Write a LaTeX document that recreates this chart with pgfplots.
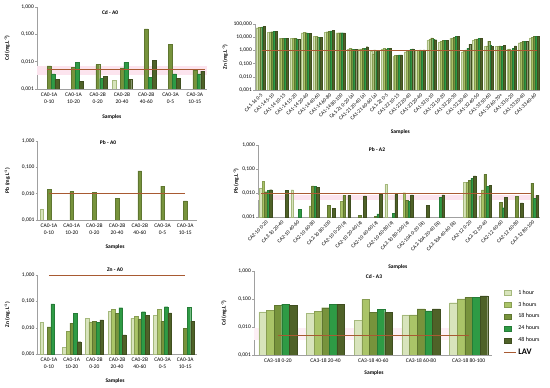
\documentclass[border=0pt]{standalone}
\usepackage{pgfplots}
\pgfplotsset{compat=1.18}
\usepackage{fontspec}
\setmainfont{Carlito}
\definecolor{c1}{RGB}{216,228,188}
\definecolor{c1d}{RGB}{165,185,125}
\definecolor{c2}{RGB}{170,196,104}
\definecolor{c3}{RGB}{119,147,60}
\definecolor{c4}{RGB}{46,155,69}
\definecolor{c5}{RGB}{79,98,40}
\definecolor{lavc}{RGB}{168,90,50}
\definecolor{axc}{RGB}{160,160,160}
\definecolor{pinkb}{RGB}{252,228,238}
\pgfplotsset{
  mypanel/.style={
    scale only axis,
    axis x line*=bottom, axis y line*=left,
    axis line style={draw=axc, line width=0.5pt},
    ymin=0.001, ymax=1,
    ytick={0.001,0.01,0.1,1},
    yticklabels={{0,001},{0,010},{0,100},{1,000}},
    yminorticks=false,
    ytick style={draw=axc, line width=0.5pt},
    xtick style={draw=none},
    tick align=outside, major tick length=2pt,
    ticklabel style={font=\fontsize{5.5}{6.5}\selectfont},
    yticklabel style={inner sep=1pt},
    xticklabel style={inner sep=1.5pt},
    xlabel style={font=\bfseries\fontsize{5.5}{6.5}\selectfont},
    ylabel style={font=\bfseries\fontsize{5.5}{6.5}\selectfont},
  },
  mytwo/.style={xticklabel style={align=center, font=\fontsize{5.5}{7}\selectfont}},
  myrot/.style={xticklabel style={rotate=45, anchor=north east, inner sep=0.6pt, font=\fontsize{5.2}{5.4}\selectfont}},
  sqleg/.style={legend image code/.code={\draw[##1] (0pt,-2.5pt) rectangle (7pt,2.5pt);}},
  lnleg/.style={legend image code/.code={\draw[##1] (0pt,0pt) -- (12pt,0pt);}},
  hA/.style={ybar, bar width=0.16, bar shift=-0.32, fill=c1, draw=c1d, line width=0.3pt, sqleg},
  hB/.style={ybar, bar width=0.16, bar shift=-0.16, fill=c2, draw=c2!80!black, line width=0.3pt, sqleg},
  hC/.style={ybar, bar width=0.16, bar shift=0, fill=c3, draw=c3!80!black, line width=0.3pt, sqleg},
  hD/.style={ybar, bar width=0.16, bar shift=0.16, fill=c4, draw=c4!80!black, line width=0.3pt, sqleg},
  hE/.style={ybar, bar width=0.16, bar shift=0.32, fill=c5, draw=c5!80!black, line width=0.3pt, sqleg},
  mylav/.style={sharp plot, draw=lavc, line width=0.9pt, mark=none, lnleg},
}
\newcommand{\ttl}{\bfseries\fontsize{5.5}{6.5}\selectfont}
\begin{document}
\begin{tikzpicture}
\useasboundingbox (0,0) rectangle (550pt,388pt);
% ---------------- Cd - A0
\begin{axis}[ymode=log, log origin=infty, mypanel, mytwo, at={(37pt,299pt)}, anchor=south west, width=170pt, height=82pt,
  xmin=-0.5, xmax=6.5, xtick={0,...,6},
  xticklabels={{CA0-1A\\0-10},{CA0-1A\\10-20},{CA0-2B\\0-20},{CA0-2B\\20-40},{CA0-2B\\40-60},{CA0-3A\\0-5},{CA0-3A\\10-15}},
  ylabel={Cd (mg.L\textsuperscript{-1})}, ylabel style={at={(axis description cs:-0.176,0.5)}, anchor=center},
  xlabel={Samples}, xlabel style={at={(axis description cs:0.44,-0.34)}, anchor=center}]
\fill[pinkb] (axis cs:-0.5,0.0032) rectangle (axis cs:6.5,0.0069);
\addplot[hA] coordinates {(3,0.0021)};
\addplot[hC] coordinates {(0,0.007) (1,0.0063) (2,0.0078) (3,0.0059) (4,0.16) (5,0.044) (6,0.005)};
\addplot[hD] coordinates {(0,0.0036) (1,0.0095) (2,0.0024) (3,0.0095) (4,0.0027) (5,0.0036) (6,0.0036)};
\addplot[hE] coordinates {(0,0.0022) (1,0.0019) (2,0.0029) (3,0.0023) (4,0.011) (5,0.0025) (6,0.0045)};
\addplot[mylav] coordinates {(-0.1,0.005) (6.4,0.005)};
\node[font=\ttl] at (axis description cs:0.43,0.927) {Cd - A0};
\end{axis}
% ---------------- Zn - A1
\begin{axis}[ymode=log, log origin=infty, mypanel, myrot, at={(255pt,298pt)}, anchor=south west, width=285pt, height=66pt,
  ymax=100, ytick={0.001,0.01,0.1,1,10,100},
  yticklabels={{0,001},{0,010},{0,100},{1,000},{10,000},{100,000}},
  xmin=-0.5, xmax=24.5, xtick={0,...,24},
  xticklabels={{CA1-14 0-5},{CA1-14 5-10},{CA1-14 10-15},{CA1-14 15-20},{CA1-14 20-40},{CA1-14 40-60},{CA1-14 60-80},{CA1-14 80-100},{CA1-21 0-20 (a)},{CA1-21 20-40 (a)},{CA1-21 40-60 (a)},{CA1-22 0-5},{CA1-22 10-15},{CA1-22 20-40},{CA1-23 20-40},{CA1-32 0-10},{CA1-32 10-20},{CA1-32 20-30},{CA1-32 30-40},{CA1-32 40-50},{CA1-32 50-60},{CA1-32 60-70+},{CA1-33 0-20},{CA1-33 20-40},{CA1-33 40-60}},
  ylabel={Zn (mg.L\textsuperscript{-1})}, ylabel style={at={(axis description cs:-0.105,0.5)}, anchor=center},
  xlabel={Samples}, xlabel style={at={(axis description cs:0.51,-0.64)}, anchor=center}]
\addplot[hA, bar width=0.17, bar shift=-0.34] coordinates {(0,52)(1,24)(2,7.8)(3,8)(4,22)(5,11)(6,24)(7,22)(8,1.2)(9,1.3)(10,0.9)(11,1.3)(12,0.35)(13,0.8)(14,1.0)(15,6)(16,4.5)(17,8)(18,0.8)(19,6)(20,2)(21,2)(22,1.3)(23,3.8)(24,9)};
\addplot[hB, bar width=0.17, bar shift=-0.17] coordinates {(0,55)(1,25)(2,8)(3,7.8)(4,24)(5,11)(6,26)(7,22)(8,1.4)(9,1.3)(10,0.55)(11,1.4)(12,0.4)(13,0.9)(14,1.0)(15,7)(16,5)(17,9)(18,0.9)(19,7)(20,2.2)(21,2.1)(22,1.3)(23,4.2)(24,10)};
\addplot[hC, bar width=0.17, bar shift=0] coordinates {(0,58)(1,26)(2,8)(3,8)(4,22)(5,10.5)(6,28)(7,22)(8,1.3)(9,1.4)(10,1.1)(11,1.3)(12,0.42)(13,1.0)(14,1.1)(15,9)(16,5.5)(17,10)(18,1.1)(19,7.5)(20,5)(21,2.2)(22,1.1)(23,4.6)(24,11)};
\addplot[hD, bar width=0.17, bar shift=0.17] coordinates {(0,60)(1,27)(2,8.2)(3,7.6)(4,20)(5,10)(6,30)(7,22)(8,1.25)(9,1.5)(10,0.8)(11,1.4)(12,0.45)(13,1.2)(14,1.0)(15,7)(16,6)(17,11)(18,1.5)(19,8)(20,2.5)(21,2)(22,1.5)(23,4.8)(24,12)};
\addplot[hE, bar width=0.17, bar shift=0.34] coordinates {(0,63)(1,28)(2,8)(3,7.3)(4,19)(5,9.5)(6,33)(7,21)(8,1.2)(9,1.9)(10,1.0)(11,1.4)(12,0.45)(13,1.3)(14,1.1)(15,6.5)(16,6)(17,11)(18,3)(19,8)(20,2)(21,2.5)(22,2.2)(23,5)(24,12)};
\addplot[mylav] coordinates {(0.1,1) (24.2,1)};
\node[font=\ttl] at (axis description cs:0.44,1.167) {Zn - A1};
\end{axis}
% ---------------- Pb - A0
\begin{axis}[ymode=log, log origin=infty, mypanel, mytwo, at={(37.6pt,168pt)}, anchor=south west, width=159pt, height=79pt,
  xmin=-0.5, xmax=6.5, xtick={0,...,6},
  xticklabels={{CA0-1A\\0-10},{CA0-1A\\10-20},{CA0-2B\\0-20},{CA0-2B\\20-40},{CA0-2B\\40-60},{CA0-3A\\0-5},{CA0-3A\\10-15}},
  ylabel={Pb (mg.L\textsuperscript{-1})}, ylabel style={at={(axis description cs:-0.19,0.5)}, anchor=center},
  xlabel={Samples}, xlabel style={at={(axis description cs:0.487,-0.34)}, anchor=center}]
\addplot[hA] coordinates {(0,0.0026)};
\addplot[hC] coordinates {(0,0.0146) (1,0.012) (2,0.011) (3,0.0066) (4,0.073) (5,0.0195) (6,0.0053)};
\addplot[mylav] coordinates {(0,0.01) (6,0.01)};
\node[font=\ttl] at (axis description cs:0.443,0.975) {Pb - A0};
\end{axis}
% ---------------- Pb - A2
\begin{axis}[ymode=log, log origin=infty, mypanel, myrot, at={(258pt,170.7pt)}, anchor=south west, width=282pt, height=72.3pt,
  xmin=-0.5, xmax=17.5, xtick={0,...,17},
  xticklabels={{CA2-10 0-20},{CA2-10 20-40},{CA2-10 40-60},{CA2-10 60-80},{CA2-10 80-100},{CA2-10 0-20 (a)},{CA2-10 20-40 (a)},{CA2-10 40-60 (a)},{CA2-10 60-80 (a)},{CA2-10 80-100 (a)},{CA2-10A 0-20 (iii)},{CA2-10A 20-40 (iii)},{CA2-10A 40-60 (iii)},{CA2-12 0-20},{CA2-12 20-40},{CA2-12 40-60},{CA2-12 60-80},{CA2-12 80-100}},
  ylabel={Pb (mg.L\textsuperscript{-1})}, ylabel style={at={(axis description cs:-0.078,0.5)}, anchor=center},
  xlabel={Samples}, xlabel style={at={(axis description cs:0.496,-0.687)}, anchor=center}]
\fill[pinkb] (axis cs:-0.5,0.0052) rectangle (axis cs:17.5,0.0085);
\addplot[hA] coordinates {(0,0.016) (2,0.014) (8,0.023) (13,0.028) (14,0.0078)};
\addplot[hB] coordinates {(0,0.032) (3,0.003) (5,0.0045) (9,0.0105) (13,0.028) (14,0.0138)};
\addplot[hC] coordinates {(0,0.0115) (3,0.02) (4,0.0032) (5,0.008) (6,0.0012) (7,0.0011) (9,0.0052) (13,0.035) (14,0.06) (15,0.0042) (16,0.0076) (17,0.026)};
\addplot[hD] coordinates {(0,0.0135) (2,0.0022) (3,0.019) (7,0.0014) (8,0.0015) (9,0.0045) (11,0.0068) (13,0.042) (14,0.019) (15,0.0025) (17,0.006)};
\addplot[hE] coordinates {(0,0.014) (1,0.013) (3,0.017) (4,0.0023) (5,0.008) (6,0.0078) (7,0.0093) (8,0.009) (9,0.0085) (10,0.0032) (11,0.0085) (13,0.052) (14,0.021) (15,0.0068) (16,0.004) (17,0.008)};
\addplot[mylav] coordinates {(-0.3,0.01) (16.9,0.01)};
\node[font=\ttl] at (axis description cs:0.422,0.93) {Pb - A2};
\end{axis}
% ---------------- Zn - A0
\begin{axis}[ymode=log, log origin=infty, mypanel, mytwo, at={(37.6pt,33.7pt)}, anchor=south west, width=159pt, height=79.3pt, clip=false,
  xmin=-0.5, xmax=6.5, xtick={0,...,6},
  xticklabels={{CA0-1A\\0-10},{CA0-1A\\10-20},{CA0-2B\\0-20},{CA0-2B\\20-40},{CA0-2B\\40-60},{CA0-3A\\0-5},{CA0-3A\\10-15}},
  ylabel={Zn (mg.L\textsuperscript{-1})}, ylabel style={at={(axis description cs:-0.19,0.5)}, anchor=center},
  xlabel={Samples}, xlabel style={at={(axis description cs:0.487,-0.337)}, anchor=center}]
\addplot[hA] coordinates {(0,0.016) (1,0.0018) (2,0.023) (3,0.043) (4,0.023) (5,0.03)};
\addplot[hB] coordinates {(1,0.0072) (2,0.017) (3,0.05) (4,0.028) (5,0.05)};
\addplot[hC] coordinates {(0,0.011) (1,0.015) (2,0.018) (3,0.035) (4,0.022) (5,0.018) (6,0.0096)};
\addplot[hD] coordinates {(0,0.08) (1,0.035) (2,0.016) (3,0.058) (4,0.041) (5,0.063) (6,0.06)};
\addplot[hE] coordinates {(1,0.003) (2,0.02) (3,0.0054) (4,0.029) (5,0.037) (6,0.018)};
\addplot[mylav] coordinates {(0,1) (6,1)};
\node[font=\ttl] at (axis description cs:0.487,1.063) {Zn - A0};
\end{axis}
% ---------------- Cd - A3
\begin{axis}[ymode=log, log origin=infty, mypanel, at={(254pt,33pt)}, anchor=south west, width=238.5pt, height=84pt,
  xmin=-0.5, xmax=4.5, xtick={0,...,4},
  xticklabels={{CA3-18 0-20},{CA3-18 20-40},{CA3-18 40-60},{CA3-18 60-80},{CA3-18 80-100}},
  ylabel={Cd (mg.L\textsuperscript{-1})}, ylabel style={at={(axis description cs:-0.126,0.5)}, anchor=center},
  xlabel={Samples}, xlabel style={at={(axis description cs:0.503,-0.214)}, anchor=center},
  legend style={at={(axis description cs:1.045,0.80)}, anchor=north west, draw=none, fill=none,
    font=\fontsize{6}{7}\selectfont, row sep=2.2pt, inner sep=0pt},
  legend cell align=left]
\fill[pinkb!60] (axis cs:-0.5,0.0035) rectangle (axis cs:4.3,0.009);
\addplot[hA] coordinates {(0,0.035) (1,0.031) (2,0.017) (3,0.027) (4,0.074)};
\addlegendentry{1 hour}
\addplot[hB] coordinates {(0,0.04) (1,0.037) (2,0.097) (3,0.027) (4,0.1)};
\addlegendentry{3 hours}
\addplot[hC] coordinates {(0,0.058) (1,0.049) (2,0.033) (3,0.044) (4,0.115)};
\addlegendentry{18 hours}
\addplot[hD] coordinates {(0,0.065) (1,0.065) (2,0.043) (3,0.038) (4,0.112)};
\addlegendentry{24 hours}
\addplot[hE] coordinates {(0,0.058) (1,0.066) (2,0.033) (3,0.044) (4,0.128)};
\addlegendentry{48 hours}
\addplot[mylav] coordinates {(0,0.005) (4,0.005)};
\addlegendentry{\bfseries\fontsize{8.5}{9}\selectfont LAV}
\node[font=\ttl] at (axis description cs:0.503,0.929) {Cd - A3};
\end{axis}
\end{tikzpicture}
\end{document}
